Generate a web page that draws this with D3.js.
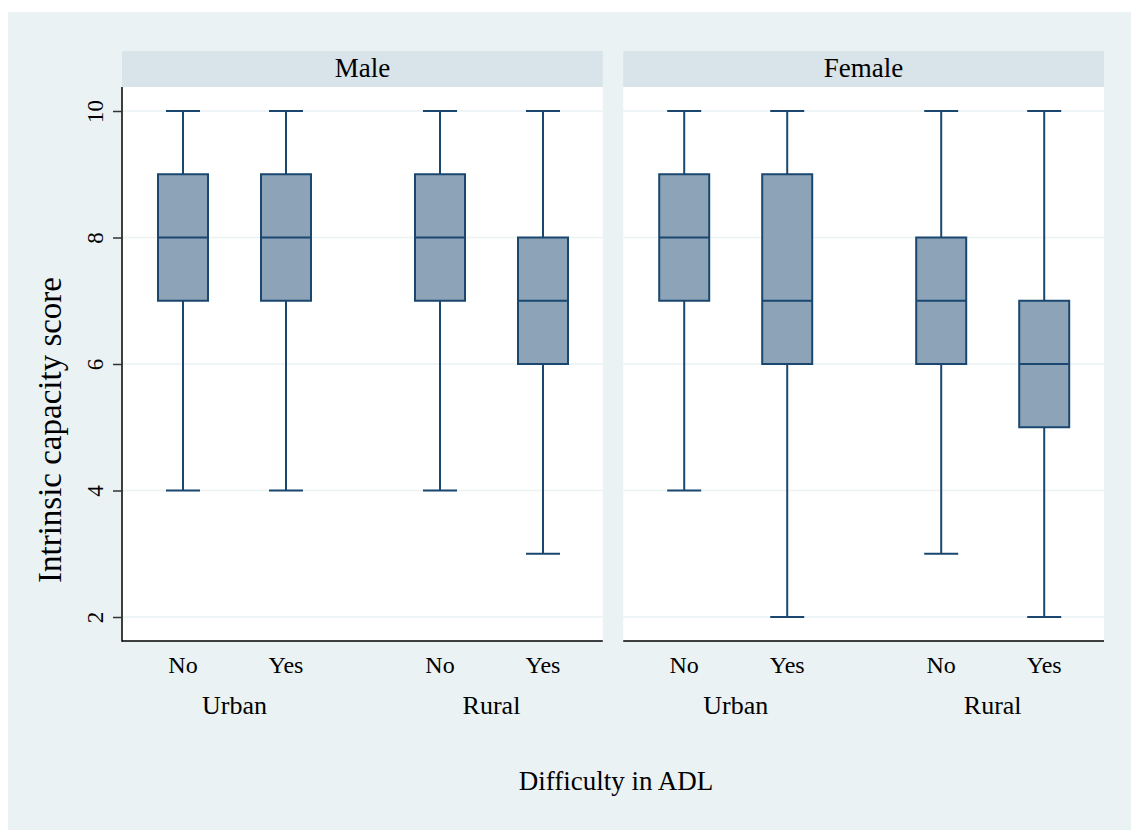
<!DOCTYPE html>
<html>
<head>
<meta charset="utf-8">
<script src="https://cdn.jsdelivr.net/npm/d3@7"></script>
<style>
  html, body { margin: 0; padding: 0; background: #ffffff; }
  svg { display: block; }
  text { font-family: "Liberation Serif", "Times New Roman", serif; fill: #000; }
</style>
</head>
<body>
<svg id="chart" width="1131" height="830"></svg>
<script>
// ---- Data ----
const panels = ["Male", "Female"];
const residence = ["Urban", "Rural"];
const adl = ["No", "Yes"];
const yTicks = [2, 4, 6, 8, 10];
// box stats per panel, ordered Urban-No, Urban-Yes, Rural-No, Rural-Yes
const whiskerLow  = { Male: [4, 4, 4, 3], Female: [4, 2, 3, 2] };
const quartile1   = { Male: [7, 7, 7, 6], Female: [7, 6, 6, 5] };
const medians     = { Male: [8, 8, 8, 7], Female: [8, 7, 7, 6] };
const quartile3   = { Male: [9, 9, 9, 8], Female: [9, 9, 8, 7] };
const whiskerHigh = { Male: [10, 10, 10, 10], Female: [10, 10, 10, 10] };
const xTitle = "Difficulty in ADL";
const yTitle = "Intrinsic capacity score";

// ---- Layout ----
const W = 1131, H = 830;
const plotTop = 87, plotBottom = 641;
const stripTop = 51;
const navy = "#1a476f";
const boxFill = "#8da4b8";
const bgCol = "#eaf2f3";
const stripCol = "#d9e4ea";

const svg = d3.select("#chart");
svg.append("rect").attr("x", 8).attr("y", 12).attr("width", W - 8).attr("height", H - 12).attr("fill", bgCol);

const panelX = d3.scaleBand().domain(panels).range([122, 1104]).paddingInner(20 / 491);
const y = d3.scaleLinear().domain([2, 10]).range([617, 111]);
const groupX = d3.scalePoint().domain(residence).range([112.5, 369.5]);
const subX = d3.scalePoint().domain(adl).range([-51.5, 51.5]);
const boxW = 50, capW = 34;

panels.forEach((p, pi) => {
  const x0 = panelX(p), pw = panelX.bandwidth();
  const g = svg.append("g").attr("transform", `translate(${x0},0)`);
  // strip
  g.append("rect").attr("x", 0).attr("y", stripTop).attr("width", pw).attr("height", plotTop - stripTop).attr("fill", stripCol);
  g.append("text").attr("x", pw / 2).attr("y", 77).attr("text-anchor", "middle").style("font-size", "27px").text(p);
  // plot area
  g.append("rect").attr("x", 0).attr("y", plotTop).attr("width", pw).attr("height", plotBottom - plotTop).attr("fill", "#fff");
  // grid
  g.selectAll(".grid").data(yTicks).join("line")
    .attr("x1", 0).attr("x2", pw).attr("y1", d => y(d)).attr("y2", d => y(d))
    .attr("stroke", bgCol).attr("stroke-width", 1.6);
  // axes
  g.append("line").attr("x1", 0).attr("x2", pw).attr("y1", plotBottom).attr("y2", plotBottom).attr("stroke", "#000").attr("stroke-width", 1.5);
  if (pi === 0) {
    const ax = d3.axisLeft(y).tickValues(yTicks).tickSize(9).tickSizeOuter(0).tickFormat(d3.format("d"));
    const axg = svg.append("g").attr("transform", `translate(${x0},0)`).call(ax);
    axg.select(".domain").remove();
    axg.selectAll(".tick line").attr("stroke", "#333").attr("stroke-width", 1.5);
    axg.selectAll(".tick text").remove();
    axg.selectAll(".tick").append("text")
      .attr("transform", "translate(-19,0) rotate(-90)")
      .attr("text-anchor", "middle")
      .style("font-size", "23px")
      .text(d => d);
    g.append("line").attr("x1", 0).attr("x2", 0).attr("y1", plotTop).attr("y2", plotBottom + 0.75).attr("stroke", "#000").attr("stroke-width", 1.5);
  }
  // boxes
  const items = [];
  residence.forEach((r, ri) => adl.forEach((a, ai) => {
    const k = ri * 2 + ai;
    items.push({ r, a, cx: groupX(r) + subX(a), lo: whiskerLow[p][k], q1: quartile1[p][k], med: medians[p][k], q3: quartile3[p][k], hi: whiskerHigh[p][k] });
  }));
  const bg = g.selectAll(".box").data(items).join("g");
  bg.append("line").attr("x1", d => d.cx).attr("x2", d => d.cx).attr("y1", d => y(d.hi)).attr("y2", d => y(d.q3)).attr("stroke", navy).attr("stroke-width", 2);
  bg.append("line").attr("x1", d => d.cx).attr("x2", d => d.cx).attr("y1", d => y(d.q1)).attr("y2", d => y(d.lo)).attr("stroke", navy).attr("stroke-width", 2);
  bg.append("line").attr("x1", d => d.cx - capW / 2).attr("x2", d => d.cx + capW / 2).attr("y1", d => y(d.hi)).attr("y2", d => y(d.hi)).attr("stroke", navy).attr("stroke-width", 2);
  bg.append("line").attr("x1", d => d.cx - capW / 2).attr("x2", d => d.cx + capW / 2).attr("y1", d => y(d.lo)).attr("y2", d => y(d.lo)).attr("stroke", navy).attr("stroke-width", 2);
  bg.append("rect").attr("x", d => d.cx - boxW / 2).attr("width", boxW).attr("y", d => y(d.q3)).attr("height", d => y(d.q1) - y(d.q3))
    .attr("fill", boxFill).attr("stroke", navy).attr("stroke-width", 2);
  bg.append("line").attr("x1", d => d.cx - boxW / 2).attr("x2", d => d.cx + boxW / 2).attr("y1", d => y(d.med)).attr("y2", d => y(d.med)).attr("stroke", navy).attr("stroke-width", 2);
  // x labels
  g.selectAll(".xl").data(items).join("text")
    .attr("x", d => d.cx).attr("y", 673).attr("text-anchor", "middle").style("font-size", "24px").text(d => d.a);
  g.selectAll(".gl").data(residence).join("text")
    .attr("x", d => groupX(d)).attr("y", 714).attr("text-anchor", "middle").style("font-size", "26px").text(d => d);
});

svg.append("text").attr("x", 616).attr("y", 790).attr("text-anchor", "middle").style("font-size", "27px").text(xTitle);
svg.append("text").attr("transform", "translate(61,430) rotate(-90)").attr("text-anchor", "middle").style("font-size", "33px").text(yTitle);
</script>
</body>
</html>
